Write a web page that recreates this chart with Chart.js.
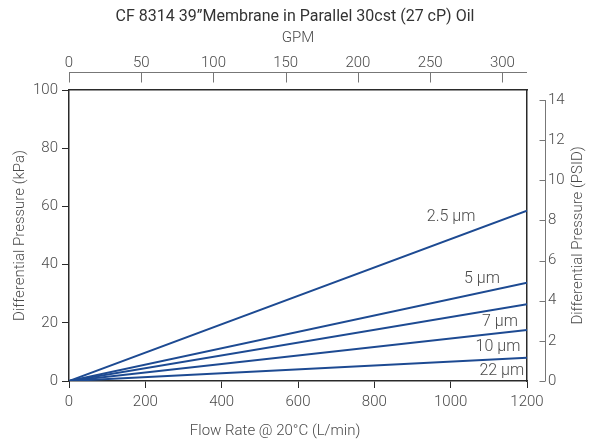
<!DOCTYPE html>
<html>
<head>
<meta charset="utf-8">
<script src="https://cdn.jsdelivr.net/npm/chart.js@4.4.0/dist/chart.umd.min.js"></script>
<style>
    html, body { margin: 0; padding: 0; background: #fff; }
    #wrap { width: 590px; height: 444px; }
</style>
</head>
<body>
<div id="wrap"><canvas id="chart" width="590" height="444"></canvas></div>
<script>
// flow points (L/min) and pressure drop (kPa) for each membrane grade
const flowLpm = [0, 1200];
const dp2_5um = [0, 58.5];
const dp5um = [0, 33.8];
const dp7um = [0, 26.4];
const dp10um = [0, 17.5];
const dp22um = [0, 8.0];
const gradeLabels = ['2.5 µm', '5 µm', '7 µm', '10 µm', '22 µm'];

const kpaTicks = [0, 20, 40, 60, 80, 100];
const lpmTicks = [0, 200, 400, 600, 800, 1000, 1200];
const gpmTicks = [0, 50, 100, 150, 200, 250, 300];
const psiTicks = [0, 2, 4, 6, 8, 10, 12, 14];

const LPM_PER_GPM = 3.78541;
const KPA_PER_PSI = 6.89476;

const lineColor = '#1d4a92';
const textColor = '#4a4a4a';
const boxColor = '#2a2a2a';
const sideAxisColor = '#777';
const FONT = 'Roboto, "Liberation Sans", sans-serif';

const series = [dp2_5um, dp5um, dp7um, dp10um, dp22um];

const toPoints = (ys) => flowLpm.map((x, i) => ({ x: x, y: ys[i] }));

const fixTicks = (list) => (scale) => {
    scale.ticks = list.map(v => ({ value: v }));
};
const plainLabel = (v) => String(v);
const tickFont = { family: FONT, size: 15, weight: '300' };

// draws the detached GPM / PSID axes, the right title, x title and grade labels
const extrasPlugin = {
    id: 'extras',
    afterDraw(chart, args, opts) {
        const ctx = chart.ctx;
        const { x, y, x2, y2 } = chart.scales;
        ctx.save();

        // top GPM axis, sits above the plot box
        ctx.strokeStyle = sideAxisColor;
        ctx.lineWidth = 1;
        const ty = 72.5;
        ctx.beginPath();
        ctx.moveTo(x2.getPixelForValue(0), ty);
        ctx.lineTo(x2.getPixelForValue(x2.max), ty);
        gpmTicks.forEach(v => {
            const px = Math.round(x2.getPixelForValue(v)) + 0.5;
            ctx.moveTo(px, ty);
            ctx.lineTo(px, ty + 10);
        });
        ctx.stroke();

        // right PSID axis, sits right of the plot box
        const rx = 545.5;
        ctx.beginPath();
        ctx.moveTo(rx, y2.getPixelForValue(0));
        ctx.lineTo(rx, y2.getPixelForValue(14));
        psiTicks.forEach(v => {
            const py = Math.round(y2.getPixelForValue(v)) + 0.5;
            ctx.moveTo(rx - 6, py);
            ctx.lineTo(rx, py);
        });
        ctx.stroke();

        ctx.fillStyle = textColor;
        ctx.textBaseline = 'middle';

        // right axis title, reads bottom to top
        ctx.font = '300 15px ' + FONT;
        ctx.save();
        ctx.translate(578, (y2.top + y2.bottom) / 2);
        ctx.rotate(-Math.PI / 2);
        ctx.textAlign = 'center';
        ctx.fillText('Differential Pressure (PSID)', 0, 0);
        ctx.restore();

        // bottom axis title
        ctx.textAlign = 'center';
        ctx.fillText('Flow Rate @ 20°C (L/min)', x.getPixelForValue(540), 431);

        // grade labels
        ctx.font = '300 16px ' + FONT;
        opts.anchors.forEach((a, i) => {
            ctx.fillText(gradeLabels[i], x.getPixelForValue(a[0]), y.getPixelForValue(a[1]));
        });

        ctx.restore();
    }
};

const ctx = document.getElementById('chart').getContext('2d');
const chart = new Chart(ctx, {
    type: 'line',
    data: {
        datasets: series.map((ys, i) => ({
            label: gradeLabels[i],
            data: toPoints(ys),
            borderColor: lineColor,
            borderWidth: 2,
            pointRadius: 0,
            fill: false,
            tension: 0
        }))
    },
    options: {
        responsive: false,
        animation: false,
        devicePixelRatio: 1,
        layout: { padding: 0 },
        plugins: {
            legend: { display: false },
            tooltip: { enabled: false },
            title: {
                display: true,
                text: 'CF 8314 39\u201DMembrane in Parallel 30cst (27 cP) Oil',
                color: '#333',
                font: { family: FONT, size: 16, weight: '400', lineHeight: 1.2 },
                padding: { top: 7.4, bottom: 0 }
            },
            extras: {
                anchors: [[1001, 56.4], [1082, 35.1], [1129, 20.3], [1124, 11.7], [1134, 3.4]]
            }
        },
        scales: {
            x: {
                type: 'linear',
                position: 'bottom',
                min: 0,
                max: 1200,
                afterBuildTicks: fixTicks(lpmTicks),
                afterFit: (s) => { s.height = 63; },
                grid: { drawOnChartArea: false, drawTicks: true, tickLength: 7, color: boxColor },
                border: { display: true, color: boxColor, width: 1.5 },
                ticks: { color: textColor, padding: 5, maxRotation: 0, callback: plainLabel, font: tickFont }
            },
            x2: {
                type: 'linear',
                position: 'top',
                min: 0,
                max: 1200 / LPM_PER_GPM,
                afterBuildTicks: fixTicks(gpmTicks),
                afterFit: (s) => { s.height = 90 - 26.6; },
                grid: { display: false, drawTicks: false },
                border: { display: true, color: boxColor, width: 1.5 },
                ticks: { color: textColor, padding: 18, maxRotation: 0, callback: plainLabel, font: tickFont },
                title: {
                    display: true,
                    text: 'GPM',
                    color: textColor,
                    font: { family: FONT, size: 15, weight: '300', lineHeight: 1.2 },
                    padding: { top: 2.5, bottom: 0 }
                }
            },
            y: {
                type: 'linear',
                position: 'left',
                min: 0,
                max: 100,
                afterBuildTicks: fixTicks(kpaTicks),
                afterFit: (s) => { s.width = 69; },
                grid: { drawOnChartArea: false, drawTicks: true, tickLength: 7, color: boxColor },
                border: { display: true, color: boxColor, width: 1.5 },
                ticks: { color: textColor, padding: 4, callback: plainLabel, font: tickFont },
                title: {
                    display: true,
                    text: 'Differential Pressure (kPa)',
                    color: textColor,
                    font: { family: FONT, size: 15, weight: '300', lineHeight: 1.2 },
                    padding: { top: 11, bottom: 0 }
                }
            },
            y2: {
                type: 'linear',
                position: 'right',
                min: 0,
                max: 100 / KPA_PER_PSI,
                afterBuildTicks: fixTicks(psiTicks),
                afterFit: (s) => { s.width = 63; },
                grid: { display: false, drawTicks: false },
                border: { display: true, color: boxColor, width: 1.5 },
                ticks: { color: textColor, padding: 21, callback: plainLabel, font: tickFont }
            }
        }
    },
    plugins: [extrasPlugin]
});
</script>
</body>
</html>
